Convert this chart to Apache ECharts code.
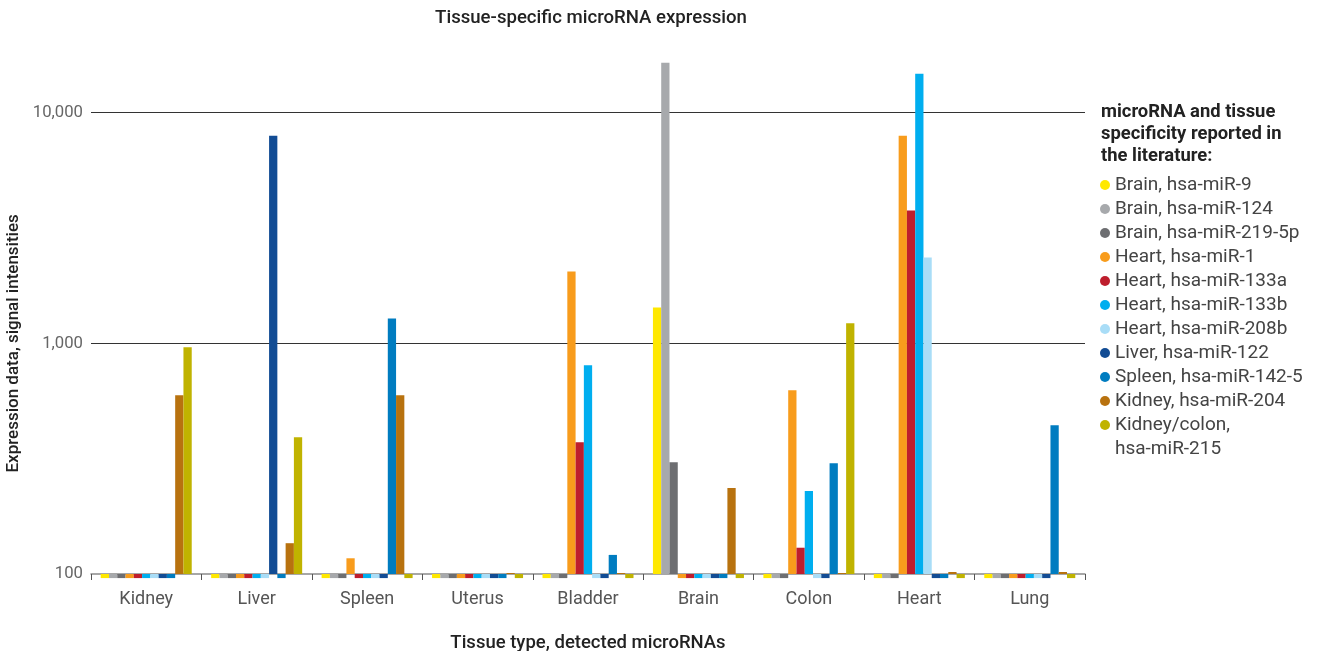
<!DOCTYPE html>
<html>
<head>
<meta charset="utf-8">
<script src="https://cdn.jsdelivr.net/npm/echarts@6/dist/echarts.min.js"></script>
<style>html,body{margin:0;padding:0;background:#fff}#c{width:1317px;height:651px}</style>
</head>
<body>
<div id="c"></div>
<script>
const categories = ['Kidney','Liver','Spleen','Uterus','Bladder','Brain','Colon','Heart','Lung'];
const seriesNames = ['Brain, hsa-miR-9','Brain, hsa-miR-124','Brain, hsa-miR-219-5p','Heart, hsa-miR-1','Heart, hsa-miR-133a','Heart, hsa-miR-133b','Heart, hsa-miR-208b','Liver, hsa-miR-122','Spleen, hsa-miR-142-5','Kidney, hsa-miR-204','Kidney/colon, hsa-miR-215'];
const miR9    = [96, 96, 96, 96, 96, 1432, 96, 96, 96];
const miR124  = [96, 96, 96, 96, 96, 16450, 96, 96, 96];
const miR219  = [96, 96, 96, 96, 96, 305, 96, 96, 96];
const miR1    = [96, 96, 117, 96, 2050, 96, 626, 7950, 96];
const miR133a = [96, 96, 96, 96, 373, 96, 130, 3765, 96];
const miR133b = [96, 96, 96, 96, 803, 96, 229, 14750, 96];
const miR208b = [96, 96, 96, 96, 96, 96, 96, 2357, 96];
const miR122  = [96, 7950, 96, 96, 96, 96, 96, 96, 96];
const miR142  = [96, 96, 1283, 96, 121, 96, 302, 96, 442];
const miR204  = [596, 136, 596, 101, 101, 236, 101, 102, 102];
const miR215  = [961, 392, 96, 96, 96, 96, 1221, 96, 96];
const yTicks = [100, 1000, 10000];

const seriesData = [miR9, miR124, miR219, miR1, miR133a, miR133b, miR208b, miR122, miR142, miR204, miR215];
const colors = ['#FFE800','#A7A9AC','#6D6E71','#F89C1C','#BE1E2D','#00AEEF','#A9DDF7','#124C94','#007CC0','#B8720F','#C0B300'];

const chart = echarts.init(document.getElementById('c'));
const FONT = 'Roboto';
chart.setOption({
  animation: false,
  color: colors,
  textStyle: { fontFamily: FONT },
  title: [
    { text: 'Tissue-specific microRNA expression', left: 586, textAlign: 'center', top: 4,
      textStyle: { fontFamily: FONT, fontSize: 18.6, fontWeight: 500, color: '#222' } },
    { text: 'microRNA and tissue\nspecificity reported in\nthe literature:', left: 1096, top: 96,
      textStyle: { fontFamily: FONT, fontSize: 18.4, fontWeight: 'bold', color: '#222', lineHeight: 22 } }
  ],
  legend: {
    orient: 'vertical', left: 1100, top: 175, itemWidth: 10, itemHeight: 10, itemGap: 4,
    icon: 'circle', padding: 0,
    data: seriesNames,
    formatter: function (n) { return n === 'Kidney/colon, hsa-miR-215' ? 'Kidney/colon,' : n; },
    textStyle: { fontFamily: FONT, fontSize: 19, lineHeight: 20, color: '#444' }
  },
  graphic: [
    { type: 'text', left: 1115, top: 440, style: { text: 'hsa-miR-215', font: '19px Roboto', fill: '#444' } }
  ],
  grid: { left: 91, right: 232, top: 112.7, bottom: 77, outerBoundsMode: 'none', containLabel: false },
  xAxis: {
    type: 'category', data: categories,
    name: 'Tissue type, detected microRNAs', nameLocation: 'middle', nameGap: 60,
    nameTextStyle: { fontFamily: FONT, fontSize: 18.5, fontWeight: 500, color: '#222' },
    axisLine: { lineStyle: { color: '#8a8a8a', width: 1.5 } },
    axisTick: { show: true, length: 6, lineStyle: { color: '#555', width: 1 } },
    axisLabel: { fontFamily: FONT, fontSize: 18, color: '#555', margin: 16 }
  },
  yAxis: {
    type: 'log', logBase: 10, min: yTicks[0], max: yTicks[yTicks.length - 1], startValue: 100,
    name: 'Expression data, signal intensities', nameLocation: 'middle', nameGap: 66, nameRotate: 90,
    nameTextStyle: { fontFamily: FONT, fontSize: 17, fontWeight: 500, color: '#222' },
    axisLine: { show: false },
    axisTick: { show: false },
    axisLabel: { fontFamily: FONT, fontSize: 16.7, color: '#666', margin: 8,
      formatter: function (v) { return Math.round(v).toLocaleString('en-US'); } },
    splitLine: { show: true, showMinLine: false, lineStyle: { color: '#333', width: 1 } }
  },
  series: seriesNames.map(function (name, i) {
    return {
      name: name, type: 'bar', data: seriesData[i], clip: false,
      barGap: '0%', barCategoryGap: '17.6%',
      itemStyle: { color: colors[i] }
    };
  })
});
</script>
</body>
</html>
